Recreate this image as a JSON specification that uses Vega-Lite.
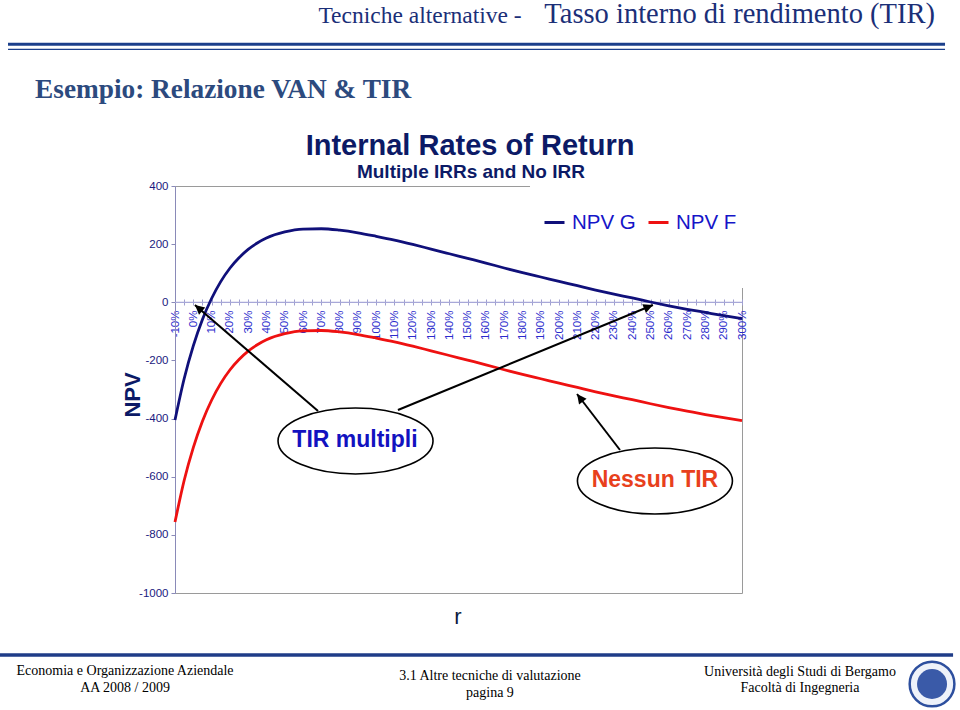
{
  "$schema": "https://vega.github.io/schema/vega-lite/v6.json",
  "width": 567,
  "height": 407,
  "autosize": {"type": "none"},
  "padding": {"left": 175, "top": 186, "right": 218, "bottom": 117},
  "background": "white",
  "config": {"view": {"stroke": "#9a9a9a", "strokeWidth": 1}, "font": "Liberation Sans"},
  "datasets": {
    "npv": [
      {"rate": -10, "npv": -405, "series": "NPV G"},
      {"rate": -5, "npv": -263, "series": "NPV G"},
      {"rate": 0, "npv": -150, "series": "NPV G"},
      {"rate": 5, "npv": -59, "series": "NPV G"},
      {"rate": 10, "npv": 13, "series": "NPV G"},
      {"rate": 15, "npv": 71, "series": "NPV G"},
      {"rate": 20, "npv": 117, "series": "NPV G"},
      {"rate": 25, "npv": 153, "series": "NPV G"},
      {"rate": 30, "npv": 182, "series": "NPV G"},
      {"rate": 35, "npv": 204, "series": "NPV G"},
      {"rate": 40, "npv": 221, "series": "NPV G"},
      {"rate": 50, "npv": 242, "series": "NPV G"},
      {"rate": 60, "npv": 252, "series": "NPV G"},
      {"rate": 70, "npv": 253, "series": "NPV G"},
      {"rate": 80, "npv": 248, "series": "NPV G"},
      {"rate": 90, "npv": 239, "series": "NPV G"},
      {"rate": 100, "npv": 227, "series": "NPV G"},
      {"rate": 110, "npv": 214, "series": "NPV G"},
      {"rate": 120, "npv": 199, "series": "NPV G"},
      {"rate": 130, "npv": 183, "series": "NPV G"},
      {"rate": 140, "npv": 167, "series": "NPV G"},
      {"rate": 150, "npv": 151, "series": "NPV G"},
      {"rate": 160, "npv": 135, "series": "NPV G"},
      {"rate": 170, "npv": 118, "series": "NPV G"},
      {"rate": 180, "npv": 102, "series": "NPV G"},
      {"rate": 190, "npv": 87, "series": "NPV G"},
      {"rate": 200, "npv": 72, "series": "NPV G"},
      {"rate": 210, "npv": 57, "series": "NPV G"},
      {"rate": 220, "npv": 42, "series": "NPV G"},
      {"rate": 230, "npv": 28, "series": "NPV G"},
      {"rate": 240, "npv": 15, "series": "NPV G"},
      {"rate": 250, "npv": 1, "series": "NPV G"},
      {"rate": 260, "npv": -12, "series": "NPV G"},
      {"rate": 270, "npv": -24, "series": "NPV G"},
      {"rate": 280, "npv": -35, "series": "NPV G"},
      {"rate": 290, "npv": -46, "series": "NPV G"},
      {"rate": 300, "npv": -56, "series": "NPV G"},
      {"rate": -10, "npv": -756, "series": "NPV F"},
      {"rate": -5, "npv": -613, "series": "NPV F"},
      {"rate": 0, "npv": -500, "series": "NPV F"},
      {"rate": 5, "npv": -409, "series": "NPV F"},
      {"rate": 10, "npv": -337, "series": "NPV F"},
      {"rate": 15, "npv": -279, "series": "NPV F"},
      {"rate": 20, "npv": -233, "series": "NPV F"},
      {"rate": 25, "npv": -197, "series": "NPV F"},
      {"rate": 30, "npv": -168, "series": "NPV F"},
      {"rate": 35, "npv": -146, "series": "NPV F"},
      {"rate": 40, "npv": -129, "series": "NPV F"},
      {"rate": 50, "npv": -108, "series": "NPV F"},
      {"rate": 60, "npv": -98, "series": "NPV F"},
      {"rate": 70, "npv": -97, "series": "NPV F"},
      {"rate": 80, "npv": -102, "series": "NPV F"},
      {"rate": 90, "npv": -111, "series": "NPV F"},
      {"rate": 100, "npv": -123, "series": "NPV F"},
      {"rate": 110, "npv": -136, "series": "NPV F"},
      {"rate": 120, "npv": -151, "series": "NPV F"},
      {"rate": 130, "npv": -167, "series": "NPV F"},
      {"rate": 140, "npv": -183, "series": "NPV F"},
      {"rate": 150, "npv": -199, "series": "NPV F"},
      {"rate": 160, "npv": -215, "series": "NPV F"},
      {"rate": 170, "npv": -232, "series": "NPV F"},
      {"rate": 180, "npv": -248, "series": "NPV F"},
      {"rate": 190, "npv": -263, "series": "NPV F"},
      {"rate": 200, "npv": -278, "series": "NPV F"},
      {"rate": 210, "npv": -293, "series": "NPV F"},
      {"rate": 220, "npv": -308, "series": "NPV F"},
      {"rate": 230, "npv": -322, "series": "NPV F"},
      {"rate": 240, "npv": -335, "series": "NPV F"},
      {"rate": 250, "npv": -349, "series": "NPV F"},
      {"rate": 260, "npv": -362, "series": "NPV F"},
      {"rate": 270, "npv": -374, "series": "NPV F"},
      {"rate": 280, "npv": -386, "series": "NPV F"},
      {"rate": 290, "npv": -397, "series": "NPV F"},
      {"rate": 300, "npv": -407, "series": "NPV F"}
    ]
  },
  "encoding": {
    "x": {
      "field": "rate", "type": "quantitative",
      "scale": {"domain": [-10, 300], "nice": false, "zero": false},
      "axis": {
        "title": null,
        "values": [-10, -5, 0, 5, 10, 15, 20, 25, 30, 35, 40, 45, 50, 55, 60, 65, 70, 75, 80, 85, 90, 95, 100, 105, 110, 115, 120, 125, 130, 135, 140, 145, 150, 155, 160, 165, 170, 175, 180, 185, 190, 195, 200, 205, 210, 215, 220, 225, 230, 235, 240, 245, 250, 255, 260, 265, 270, 275, 280, 285, 290, 295, 300],
        "labelExpr": "datum.value % 10 === 0 ? datum.value + '%' : ''",
        "labelAngle": -90,
        "labelAlign": "right",
        "labelBaseline": "middle",
        "labelFontSize": 11.5,
        "labelColor": "#2b2bcc",
        "labelPadding": 5,
        "labelOverlap": false,
        "labelFlush": false,
        "labelBound": false,
        "domain": false,
        "ticks": true,
        "tickSize": 6,
        "tickColor": "#a0a0d0",
        "offset": -294,
        "grid": false
      }
    },
    "y": {
      "field": "npv", "type": "quantitative",
      "scale": {"domain": [-1000, 400], "nice": false, "zero": false},
      "axis": {
        "title": null,
        "values": [400, 200, 0, -200, -400, -600, -800, -1000],
        "labelExpr": "datum.value + ''",
        "labelFontSize": 11.5,
        "labelColor": "#1a1a80",
        "labelPadding": 3,
        "domainColor": "#8a8ab8",
        "tickColor": "#8a8ab8",
        "tickSize": 4,
        "grid": false
      }
    }
  },
  "layer": [
    {
      "data": {"values": [{"rate": 184.1, "rate2": 312, "npv": 49.1, "npv2": 411}]},
      "mark": {"type": "rect", "color": "white", "opacity": 1},
      "encoding": {"x2": {"field": "rate2"}, "y2": {"field": "npv2"}}
    },
    {
      "data": {"values": [{"rate": -10, "rate2": 300, "npv": 0}]},
      "mark": {"type": "rule", "color": "#a8a8d8", "strokeWidth": 1.2},
      "encoding": {"x2": {"field": "rate2"}}
    },
    {
      "data": {"name": "npv"},
      "mark": {"type": "line", "strokeWidth": 2.8, "interpolate": "monotone"},
      "encoding": {
        "color": {
          "field": "series", "type": "nominal",
          "scale": {"domain": ["NPV G", "NPV F"], "range": ["#10107a", "#ee1111"]},
          "legend": {
            "orient": "none",
            "legendX": 368,
            "legendY": 25,
            "direction": "horizontal",
            "title": null,
            "symbolType": "stroke",
            "symbolStrokeWidth": 3,
            "symbolSize": 400,
            "labelFontSize": 20.5,
            "labelColor": "#1515c8",
            "labelFont": "Liberation Sans",
            "columnPadding": 6,
            "labelOffset": 6
          }
        }
      }
    },
    {
      "data": {"values": [{"rate": 68.2, "npv": -374, "rate2": 0.9, "npv2": -9.3}, {"rate": 111.9, "npv": -370.5, "rate2": 251.3, "npv2": -9.3}, {"rate": 233.3, "npv": -508.1, "rate2": 209.8, "npv2": -315.5}]},
      "mark": {"type": "rule", "color": "black", "strokeWidth": 2},
      "encoding": {"x2": {"field": "rate2"}, "y2": {"field": "npv2"}}
    },
    {
      "data": {"values": [{"rate": 0.9, "npv": -9.3}]},
      "mark": {"type": "point", "shape": "M0,0 L-0.5,1 L0.5,1 Z", "size": 361, "filled": true, "color": "black", "opacity": 1, "angle": 310.7}
    },
    {
      "data": {"values": [{"rate": 251.3, "npv": -9.3}]},
      "mark": {"type": "point", "shape": "M0,0 L-0.5,1 L0.5,1 Z", "size": 361, "filled": true, "color": "black", "opacity": 1, "angle": 67.6}
    },
    {
      "data": {"values": [{"rate": 209.8, "npv": -315.5}]},
      "mark": {"type": "point", "shape": "M0,0 L-0.5,1 L0.5,1 Z", "size": 361, "filled": true, "color": "black", "opacity": 1, "angle": 322.5}
    },
    {
      "data": {"values": [{"rate": 88.7, "npv": -477.1}, {"rate": 252.4, "npv": -614.7}]},
      "mark": {"type": "point", "shape": "M-1,0 C-1,-0.2353 -0.5523,-0.426 0,-0.426 C0.5523,-0.426 1,-0.2353 1,0 C1,0.2353 0.5523,0.426 0,0.426 C-0.5523,0.426 -1,0.2353 -1,0 Z", "size": 24025, "filled": false, "fill": "white", "fillOpacity": 1, "stroke": "black", "strokeWidth": 1.6, "opacity": 1}
    },
    {
      "data": {"values": [{"rate": 88.4, "npv": -473.7, "label": "TIR multipli"}]},
      "mark": {"type": "text", "font": "Liberation Sans", "fontSize": 23, "fontWeight": "bold", "color": "#1212c0", "align": "center", "baseline": "middle"},
      "encoding": {"text": {"field": "label"}}
    },
    {
      "data": {"values": [{"rate": 252.4, "npv": -611.3, "label": "Nessun TIR"}]},
      "mark": {"type": "text", "font": "Liberation Sans", "fontSize": 23, "fontWeight": "bold", "color": "#e8401c", "align": "center", "baseline": "middle"},
      "encoding": {"text": {"field": "label"}}
    },
    {
      "data": {"values": [{"rate": 151.3, "npv": 537.6, "label": "Internal Rates of Return"}]},
      "mark": {"type": "text", "font": "Liberation Sans", "fontSize": 29, "fontWeight": "bold", "color": "#0c1a66", "align": "center", "baseline": "middle"},
      "encoding": {"text": {"field": "label"}}
    },
    {
      "data": {"values": [{"rate": 151.8, "npv": 448.2, "label": "Multiple IRRs and No IRR"}]},
      "mark": {"type": "text", "font": "Liberation Sans", "fontSize": 19, "fontWeight": 600, "color": "#0c1a66", "align": "center", "baseline": "middle"},
      "encoding": {"text": {"field": "label"}}
    },
    {
      "data": {"values": [{"rate": -33, "npv": -318.9, "label": "NPV"}]},
      "mark": {"type": "text", "font": "Liberation Sans", "fontSize": 22, "fontWeight": "bold", "color": "#0c1a66", "align": "center", "baseline": "middle", "angle": 270},
      "encoding": {"text": {"field": "label"}}
    },
    {
      "data": {"values": [{"rate": 144.7, "npv": -1082.6, "label": "r"}]},
      "mark": {"type": "text", "font": "Liberation Sans", "fontSize": 22, "color": "#0c1a40", "align": "center", "baseline": "middle"},
      "encoding": {"text": {"field": "label"}}
    },
    {
      "data": {"values": [{"rate": 405.5, "npv": 959.0, "label": "Tasso interno di rendimento (TIR)"}]},
      "mark": {"type": "text", "font": "Liberation Serif", "fontSize": 28.5, "color": "#1b2f78", "align": "right", "baseline": "alphabetic"},
      "encoding": {"text": {"field": "label"}}
    },
    {
      "data": {"values": [{"rate": 179.5, "npv": 959.0, "label": "Tecniche alternative -"}]},
      "mark": {"type": "text", "font": "Liberation Serif", "fontSize": 23.5, "color": "#1b2f78", "align": "right", "baseline": "alphabetic"},
      "encoding": {"text": {"field": "label"}}
    },
    {
      "data": {"values": [{"rate": -101.3, "rate2": 411.0, "npv": 887.8}]},
      "mark": {"type": "rule", "color": "#1b3f8b", "strokeWidth": 3},
      "encoding": {"x2": {"field": "rate2"}}
    },
    {
      "data": {"values": [{"rate": -101.3, "rate2": 411.0, "npv": 870.2}]},
      "mark": {"type": "rule", "color": "#1b3f8b", "strokeWidth": 1.3},
      "encoding": {"x2": {"field": "rate2"}}
    },
    {
      "data": {"values": [{"rate": -86.5, "npv": 703.7, "label": "Esempio: Relazione VAN & TIR"}]},
      "mark": {"type": "text", "font": "Liberation Serif", "fontSize": 27.3, "fontWeight": "bold", "color": "#2c4a7e", "align": "left", "baseline": "alphabetic"},
      "encoding": {"text": {"field": "label"}}
    },
    {
      "data": {"values": [{"rate": -105.7, "rate2": 415.4, "npv": -1213.3}]},
      "mark": {"type": "rule", "color": "#1f3c88", "strokeWidth": 3.5},
      "encoding": {"x2": {"field": "rate2"}}
    },
    {
      "data": {"values": [
        {"rate": -37.3, "npv": -1268.3, "label": "Economia e Organizzazione Aziendale"},
        {"rate": -37.3, "npv": -1326.8, "label": "AA  2008 / 2009"},
        {"rate": 162.2, "npv": -1285.5, "label": "3.1 Altre tecniche di valutazione"},
        {"rate": 162.2, "npv": -1344.0, "label": "pagina 9"},
        {"rate": 331.7, "npv": -1271.7, "label": "Università degli Studi di Bergamo"},
        {"rate": 331.7, "npv": -1326.8, "label": "Facoltà  di Ingegneria"}
      ]},
      "mark": {"type": "text", "font": "Liberation Serif", "fontSize": 14, "color": "black", "align": "center", "baseline": "middle"},
      "encoding": {"text": {"field": "label"}}
    },
    {
      "data": {"values": [{"rate": 403.9, "npv": -1313.0}]},
      "mark": {"type": "point", "shape": "circle", "size": 2000, "filled": false, "fill": "#eef2fa", "fillOpacity": 1, "stroke": "#2d4f9e", "strokeWidth": 2.5, "opacity": 1}
    },
    {
      "data": {"values": [{"rate": 403.9, "npv": -1313.0}]},
      "mark": {"type": "point", "shape": "circle", "size": 900, "filled": true, "color": "#3a5aa8", "opacity": 1}
    }
  ]
}
